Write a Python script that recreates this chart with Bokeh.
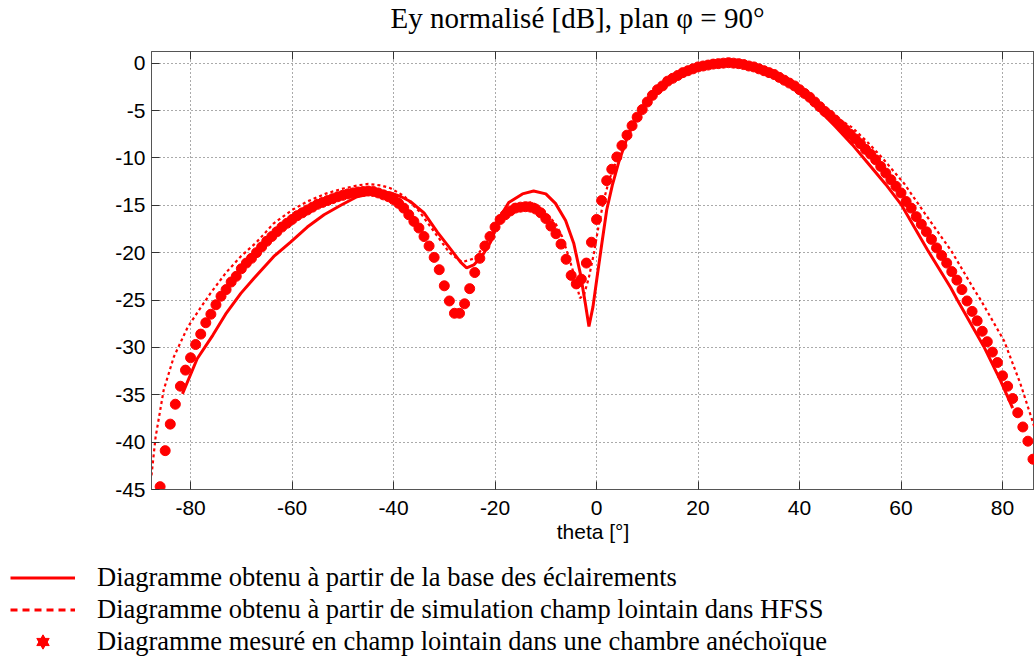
from bokeh.plotting import figure
from bokeh.layouts import column
from bokeh.models import (ColumnDataSource, Range1d, FixedTicker, LinearAxis, Legend,
                          LegendItem, Label)
from bokeh.embed import file_html
from bokeh.resources import INLINE

# ---------------- data ----------------
title_text = "Ey normalisé [dB], plan φ = 90°"
x_label = "theta [°]"
x_ticks = [-80, -60, -40, -20, 0, 20, 40, 60, 80]
y_ticks = [-45, -40, -35, -30, -25, -20, -15, -10, -5, 0]

label_base = "Diagramme obtenu à partir de la base des éclairements"
label_hfss = "Diagramme obtenu à partir de simulation champ lointain dans HFSS"
label_meas = "Diagramme mesuré en champ lointain dans une chambre anéchoïque"

# solid curve (base des éclairements)
theta_base = [-81.6, -78.7, -75.6, -73.1, -70.1, -67.5, -63.6, -60.3, -57.0, -53.7,
              -50.4, -47.2, -43.9, -42.0, -40.6, -38.5, -36.7, -34.0, -31.4, -28.8,
              -26.8, -25.6, -24.2, -22.5, -20.9, -18.9, -17.3, -14.6, -12.4, -10.0,
              -8.1, -6.1, -4.5, -3.2, -2.2, -1.5, -0.7, 0.1, 1.0, 2.0,
              3.1, 4.4, 6.0, 8.0, 10.0, 13.0, 16.0, 20.0, 24.0, 27.0,
              30.0, 35.0, 40.0, 43.8, 47.1, 50.4, 53.7, 57.0, 60.0, 65.2,
              69.8, 71.1, 76.3, 79.6, 82.0]
db_base = [-34.9, -31.2, -28.7, -26.5, -24.3, -22.7, -20.4, -18.9, -17.3, -16.0,
           -15.0, -14.1, -13.7, -13.6, -13.7, -14.1, -14.6, -15.8, -17.8, -19.6,
           -21.0, -21.6, -21.3, -20.3, -18.9, -16.1, -14.7, -13.8, -13.5, -13.8,
           -14.8, -16.6, -19.0, -22.2, -25.4, -27.8, -25.7, -22.6, -19.2, -15.5,
           -12.9, -10.4, -7.9, -5.6, -4.1, -2.3, -1.2, -0.35, -0.05, 0.0,
           -0.3, -1.3, -3.0, -4.9, -6.7, -8.6, -10.7, -12.8, -14.9, -19.7,
           -23.7, -25.0, -29.9, -33.5, -36.4]

# dotted curve (HFSS)
theta_hfss = [-87.7, -86.9, -85.3, -83.3, -80.6, -78.0, -76.1, -73.0, -70.1, -67.0,
              -63.6, -60.0, -57.0, -53.5, -50.4, -47.0, -45.0, -42.5, -40.6, -38.0,
              -35.0, -32.0, -29.0, -26.5, -24.0, -22.0, -20.0, -18.0, -16.0, -14.0,
              -13.0, -12.0, -10.0, -8.0, -6.8, -5.5, -4.1, -3.3, -2.5, -1.5,
              -0.5, 0.3, 1.4, 2.5, 4.0, 6.0, 8.0, 10.0, 13.0, 16.0,
              20.0, 24.0, 27.0, 30.0, 34.0, 38.0, 42.0, 46.0, 50.4, 53.7,
              56.3, 60.6, 65.0, 70.0, 74.3, 75.7, 80.3, 83.5, 86.1, 86.5]
db_hfss = [-43.5, -39.5, -34.5, -31.0, -27.9, -25.8, -24.3, -22.1, -20.4, -18.9,
           -16.9, -15.5, -14.6, -13.8, -13.3, -12.9, -12.75, -12.9, -13.2, -14.0,
           -15.6, -17.8, -20.0, -21.0, -20.6, -19.2, -17.5, -16.0, -15.2, -14.8,
           -14.7, -14.9, -15.8, -17.0, -18.3, -20.4, -22.9, -24.8, -24.5, -22.6,
           -20.0, -17.5, -14.5, -12.3, -10.2, -7.6, -5.6, -4.0, -2.3, -1.2,
           -0.35, -0.05, 0.05, -0.25, -0.9, -2.0, -3.4, -5.3, -6.8, -8.5,
           -10.0, -12.7, -16.1, -19.9, -23.8, -25.0, -29.3, -33.8, -38.1, -38.8]

# measured points, one per degree from -86 to 86
theta_meas = list(range(-86, 87))
db_meas = [
    -44.7, -40.9, -38.1, -36.0, -34.1, -32.4, -31.1, -29.7, -28.6, -27.4,   # -86..-77
    -26.5, -25.5, -24.6, -23.9, -23.1, -22.5, -21.7, -21.1, -20.6, -20.0,   # -76..-67
    -19.4, -18.8, -18.3, -17.8, -17.3, -16.9, -16.5, -16.1, -15.8, -15.5,   # -66..-57
    -15.2, -14.9, -14.7, -14.5, -14.3, -14.1, -13.95, -13.8, -13.7, -13.6,  # -56..-47
    -13.55, -13.5, -13.55, -13.7, -13.9, -14.1, -14.4, -14.8, -15.3, -16.0, # -46..-37
    -16.7, -17.4, -18.3, -19.3, -20.5, -21.8, -23.5, -25.1, -26.4, -26.4,   # -36..-27
    -25.4, -23.8, -22.1, -20.6, -19.3, -18.3, -17.3, -16.5, -16.0, -15.6,   # -26..-17
    -15.3, -15.2, -15.15, -15.2, -15.4, -15.8, -16.4, -17.2, -18.0, -19.1,  # -16..-7
    -20.7, -22.4, -23.3, -22.8, -21.1, -18.9, -16.5, -14.5, -12.4, -11.2,   # -6..3
    -9.9, -8.7, -7.6, -6.6, -5.7, -4.9, -4.1, -3.4, -2.8, -2.4,             # 4..13
    -1.9, -1.6, -1.3, -1.0, -0.8, -0.6, -0.4, -0.3, -0.2, -0.1,             # 14..23
    -0.05, 0.0, 0.05, 0.0, -0.05, -0.15, -0.3, -0.4, -0.6, -0.8,            # 24..33
    -1.0, -1.2, -1.5, -1.8, -2.1, -2.4, -2.8, -3.2, -3.6, -4.1,             # 34..43
    -4.6, -5.1, -5.5, -6.0, -6.5, -7.0, -7.5, -8.0, -8.5, -9.1,             # 44..53
    -9.6, -10.2, -10.9, -11.6, -12.3, -13.0, -13.7, -14.6, -15.3, -16.2,    # 54..63
    -17.0, -17.8, -18.6, -19.5, -20.3, -21.1, -22.0, -22.9, -23.9, -25.1,   # 64..73
    -26.2, -27.2, -28.3, -29.4, -30.5, -31.6, -33.0, -34.1, -35.4, -36.9,   # 74..83
    -38.4, -39.9, -41.8,                                                    # 84..86
]
assert len(theta_meas) == len(db_meas)

RED = "#ff0000"
SERIF = "Liberation Serif"
SANS = "Liberation Sans"
W = 1034
TITLE_H = 40


def blank(height):
    f = figure(width=W, height=height, output_backend="svg", toolbar_location=None,
               x_axis_type=None, y_axis_type=None,
               x_range=Range1d(0, 1), y_range=Range1d(0, 1),
               min_border_left=0, min_border_right=0, min_border_top=0,
               min_border_bottom=0)
    f.frame_align = False
    f.outline_line_color = None
    f.xgrid.visible = False
    f.ygrid.visible = False
    f.background_fill_color = "white"
    f.border_fill_color = "white"
    return f


# ---------------- title strip ----------------
t = blank(TITLE_H)
t.add_layout(Label(x=577, y=TITLE_H - 17, x_units="screen", y_units="screen",
                   text=title_text, text_font=SERIF, text_font_size="29px",
                   text_color="black", text_align="center", text_baseline="middle"))

# ---------------- main plot ----------------
p = figure(width=W, height=552 - TITLE_H, output_backend="svg", toolbar_location=None,
           x_range=Range1d(-87.7, 86.3), y_range=Range1d(-45, 1.23),
           min_border_left=151, min_border_right=0, min_border_top=51 - TITLE_H,
           min_border_bottom=63)
p.frame_align = False
p.outline_line_color = "#555555"
p.background_fill_color = "white"
p.border_fill_color = "white"

for ax in (p.xaxis[0], p.yaxis[0]):
    ax.major_tick_in = 8
    ax.major_tick_out = 0
    ax.minor_tick_line_color = None
    ax.axis_line_color = "#555555"
    ax.major_tick_line_color = "#333333"
    ax.major_label_text_font = SANS
    ax.major_label_text_font_size = "21px"
    ax.major_label_text_color = "black"

p.xaxis.ticker = FixedTicker(ticks=x_ticks)
p.yaxis.ticker = FixedTicker(ticks=y_ticks)
p.xaxis.major_label_overrides = {t_: str(t_) for t_ in x_ticks}
p.yaxis.major_label_overrides = {t_: str(t_) for t_ in y_ticks}
p.xaxis.axis_label = x_label
p.xaxis.axis_label_text_font = SANS
p.xaxis.axis_label_text_font_size = "21px"
p.xaxis.axis_label_text_font_style = "normal"
p.xaxis.axis_label_text_color = "black"
p.xaxis.axis_label_standoff = 2
p.xaxis.major_label_standoff = 11
p.yaxis.major_label_standoff = 6

top = LinearAxis(ticker=FixedTicker(ticks=x_ticks), major_tick_in=8, major_tick_out=0,
                 minor_tick_line_color=None,
                 major_label_overrides={t_: "" for t_ in x_ticks},
                 major_label_standoff=0, axis_line_color="#555555",
                 major_tick_line_color="#333333")
p.add_layout(top, "above")

p.xgrid.ticker = FixedTicker(ticks=x_ticks)
p.ygrid.ticker = FixedTicker(ticks=y_ticks)
for g in (p.xgrid[0], p.ygrid[0]):
    g.grid_line_color = "#555555"
    g.grid_line_dash = "1 3"
    g.grid_line_width = 1

src_base = ColumnDataSource(data=dict(x=theta_base, y=db_base))
src_hfss = ColumnDataSource(data=dict(x=theta_hfss, y=db_hfss))
src_meas = ColumnDataSource(data=dict(x=theta_meas, y=db_meas))

r_meas = p.scatter("x", "y", source=src_meas, marker="circle", size=10,
                   fill_color=RED, line_color=RED)
r_hfss = p.line("x", "y", source=src_hfss, line_color=RED, line_width=2.2,
                line_dash="3 3")
r_base = p.line("x", "y", source=src_base, line_color=RED, line_width=3)

# ---------------- legend strip below ----------------
q = blank(105)

# legend-only glyph renderers: their single point lies outside the visible range
proxy = ColumnDataSource(data=dict(x=[5], y=[5]))
l_base = q.line("x", "y", source=proxy, line_color=RED, line_width=3)
l_hfss = q.line("x", "y", source=proxy, line_color=RED, line_width=3, line_dash="7 5")
l_star1 = q.scatter("x", "y", source=proxy, marker="triangle", size=12,
                    fill_color=RED, line_color=RED)
l_star2 = q.scatter("x", "y", source=proxy, marker="inverted_triangle", size=12,
                    fill_color=RED, line_color=RED)

legend = Legend(items=[
    LegendItem(label=label_base, renderers=[l_base]),
    LegendItem(label=label_hfss, renderers=[l_hfss]),
    LegendItem(label=label_meas, renderers=[l_star1, l_star2]),
], location="top_left", orientation="vertical", padding=0, margin=10, spacing=1,
    glyph_width=65, glyph_height=31, label_height=31, label_standoff=22,
    border_line_color=None, background_fill_alpha=0,
    label_text_font=SERIF, label_text_font_size="26.5px", label_text_color="black")
q.add_layout(legend, "center")

layout = column(t, p, q, spacing=0)
open("out.html", "w").write(file_html(layout, INLINE))
